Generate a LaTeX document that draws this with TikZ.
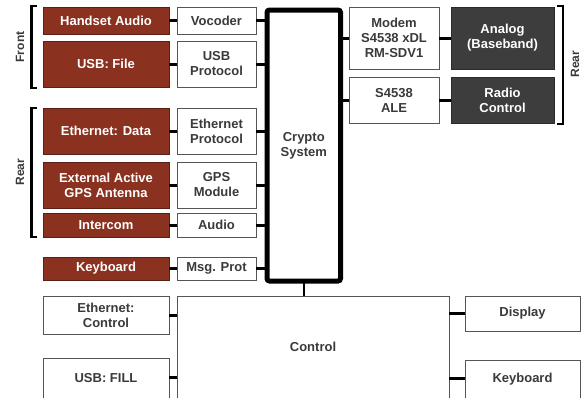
\documentclass[tikz,border=0pt]{standalone}
\usepackage{fontspec}
\setmainfont{Liberation Sans}
\definecolor{brick}{HTML}{8A3120}
\definecolor{darkbox}{HTML}{3D3D3D}
\definecolor{txt}{HTML}{3A3A3A}
\definecolor{edge}{HTML}{555555}
\tikzset{
  base/.style={draw=edge, line width=0.9pt, font=\fontsize{13}{15}\selectfont\bfseries,
    align=center, inner sep=0pt, outer sep=0pt, anchor=north west},
  wbox/.style={base, fill=white, text=txt},
  rbox/.style={base, fill=brick, draw=brick!65!black, text=white},
  dbox/.style={base, fill=darkbox, draw=darkbox!70!black, text=white},
  cryptobox/.style={base, draw=black, line width=5pt, rounded corners=2.5pt, text=txt},
  conn/.style={line width=3pt},
  thinconn/.style={line width=2pt},
  brk/.style={line width=2.5pt},
  sidelabel/.style={font=\fontsize{12}{14}\selectfont\bfseries, text=txt, rotate=90}
}
\begin{document}
\begin{tikzpicture}[x=1pt,y=-1pt]
\useasboundingbox (0,0) rectangle (583,397);

% left column
\node[rbox, minimum width=126pt, minimum height=27pt] (ha) at (43,7) {Handset Audio};
\node[wbox, minimum width=79pt, minimum height=27pt] (voc) at (177,7) {Vocoder};
\node[rbox, minimum width=126pt, minimum height=46pt] (uf) at (43,41) {USB: File};
\node[wbox, minimum width=79pt, minimum height=46pt] (up) at (177,41) {USB\\Protocol};
\node[rbox, minimum width=126pt, minimum height=46pt] (ed) at (43,108) {Ethernet: Data};
\node[wbox, minimum width=79pt, minimum height=46pt] (ep) at (177,108) {Ethernet\\Protocol};
\node[rbox, minimum width=126pt, minimum height=46pt] (gps) at (43,162) {External Active\\GPS Antenna};
\node[wbox, minimum width=79pt, minimum height=46pt] (gm) at (177,162) {GPS\\Module};
\node[rbox, minimum width=126pt, minimum height=24pt] (ic) at (43,213) {Intercom};
\node[wbox, minimum width=79pt, minimum height=24pt] (au) at (177,213) {Audio};
\node[rbox, minimum width=126pt, minimum height=23pt] (kb) at (43,257) {Keyboard};
\node[wbox, minimum width=79pt, minimum height=23pt] (mp) at (177,257) {Msg. Prot};

% bottom
\node[wbox, minimum width=126pt, minimum height=38pt] (ec) at (43,296) {Ethernet:\\Control};
\node[wbox, minimum width=126pt, minimum height=40pt] (uff) at (43,358) {USB: FILL};
\node[wbox, minimum width=272pt, minimum height=102pt] (ctl) at (177,296) {Control};
\node[wbox, minimum width=115pt, minimum height=35pt] (disp) at (465,296) {Display};
\node[wbox, minimum width=115pt, minimum height=38pt] (kb2) at (465,360) {Keyboard};

% right top
\node[wbox, minimum width=90pt, minimum height=62pt] (mod) at (349,7) {Modem\\S4538 xDL\\RM-SDV1};
\node[dbox, minimum width=103pt, minimum height=62pt] (an) at (451,7) {Analog\\(Baseband)};
\node[wbox, minimum width=90pt, minimum height=46pt] (ale) at (349,77) {S4538\\ALE};
\node[dbox, minimum width=103pt, minimum height=46pt] (rc) at (451,77) {Radio\\Control};

% crypto
\node[cryptobox, minimum width=73.5pt, minimum height=271pt] (cr) at (267,10) {Crypto\\System};

% connectors red -> white
\foreach \a/\b in {ha/voc, uf/up, ed/ep, gps/gm, ic/au, kb/mp, mod/an, ale/rc}
  \draw[conn] (\a.east) -- (\b.west);
% white -> crypto
\foreach \a in {voc, up, ep, gm, au, mp}
  \draw[conn] (\a.east) -- (\a.east -| cr.west);
\foreach \a in {mod, ale}
  \draw[conn] (\a.west) -- (\a.west -| cr.east);
% crypto -> control
\draw[thinconn] (cr.south) -- (cr.south |- ctl.north);
% control links
\coordinate (c1) at (177,315);
\coordinate (c2) at (177,377);
\coordinate (c3) at (449,313);
\coordinate (c4) at (449,378);
\draw[conn] (ec.east |- c1) -- (c1);
\draw[conn] (uff.east |- c2) -- (c2);
\draw[conn] (c3) -- (disp.west |- c3);
\draw[conn] (c4) -- (kb2.west |- c4);

% brackets
\coordinate (f1) at (37,6);  \coordinate (f2) at (31.5,6);
\coordinate (f3) at (31.5,88); \coordinate (f4) at (37,88);
\draw[brk] (f1) -- (f2) -- (f3) -- (f4);
\coordinate (r1) at (37,108);  \coordinate (r2) at (31.5,108);
\coordinate (r3) at (31.5,237); \coordinate (r4) at (37,237);
\draw[brk] (r1) -- (r2) -- (r3) -- (r4);
\coordinate (q1) at (557,6);  \coordinate (q2) at (563,6);
\coordinate (q3) at (563,124); \coordinate (q4) at (557,124);
\draw[brk] (q1) -- (q2) -- (q3) -- (q4);

\node[sidelabel] (lfront) at (20,47) {Front};
\node[sidelabel] (lrear) at (20,172) {Rear};
\node[sidelabel] (rrear) at (575,64) {Rear};
\end{tikzpicture}
\end{document}
